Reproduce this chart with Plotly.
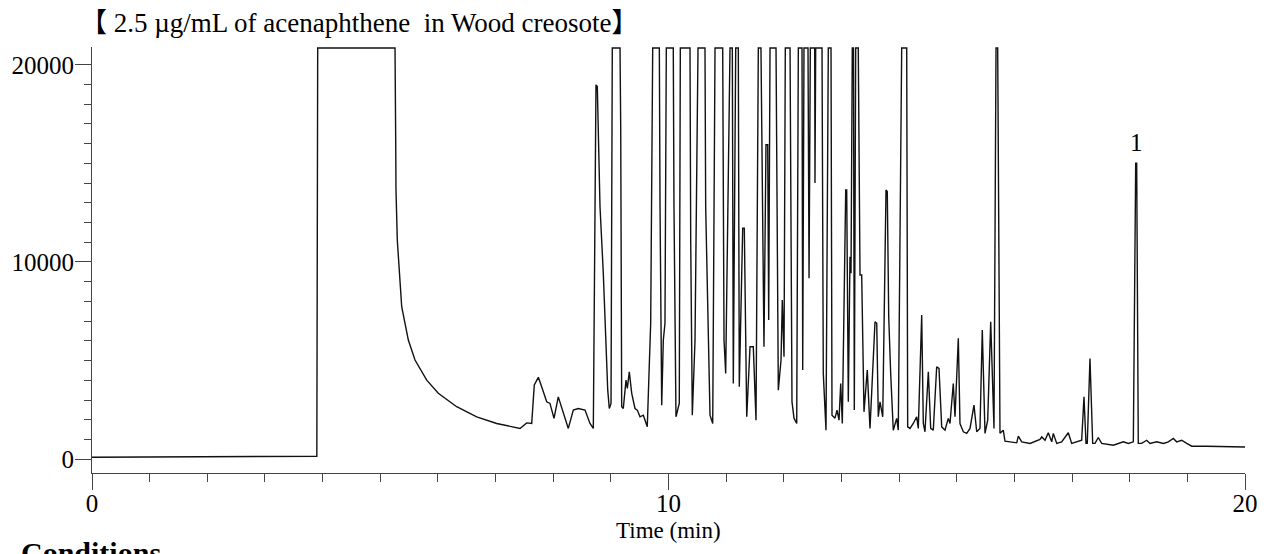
import plotly.graph_objects as go

SAT = 20850  # detector saturation level (flat tops)

# Baseline and solvent peak
t_solvent = [0, 1.5, 3.0, 3.90, 3.915, 5.256, 5.268, 5.273, 5.296, 5.372, 5.487, 5.603,
             5.806, 6.007, 6.326, 6.673, 7.020, 7.424]
s_solvent = [100, 110, 130, 150, SAT, SAT, 16200, 13650, 11100, 7730, 6040, 5030,
             4010, 3340, 2660, 2150, 1810, 1560]

# 7.5 - 9.7 min
t_early = [7.540, 7.627, 7.672, 7.742, 7.800, 7.887, 7.944, 8.014, 8.088, 8.175,
           8.262, 8.349, 8.435, 8.552, 8.638, 8.696, 8.742, 8.765, 8.812, 8.869,
           8.928, 8.946, 8.973, 9.003, 9.025, 9.159, 9.171, 9.188, 9.216, 9.263,
           9.286, 9.320, 9.362, 9.419, 9.459, 9.506, 9.563, 9.632, 9.662, 9.691]
s_early = [1840, 1810, 3760, 4150, 3670, 2910, 2830, 2070, 3160, 2320,
           1560, 2490, 2570, 2490, 1810, 1560, 18980, 18900, 12800, 9430,
           5190, 3500, 2570, 2830, SAT, SAT, 16870, 2660, 2570, 4010,
           3590, 4430, 3340, 2570, 2490, 2150, 2230, 1640, 4350, 6890]

# 9.7 - 12.2 min
t_mid1 = [9.726, 9.841, 9.853, 9.882, 9.910, 9.939, 9.962, 10.083, 10.095, 10.130,
          10.187, 10.205, 10.373, 10.385, 10.413, 10.460, 10.512, 10.633, 10.645, 10.720,
          10.767, 10.807, 10.940, 10.963, 10.992, 11.020, 11.067, 11.107, 11.124, 11.166,
          11.211, 11.228, 11.287, 11.315, 11.357, 11.414, 11.471, 11.518, 11.558, 11.604,
          11.656, 11.691, 11.721, 11.738, 11.761, 11.865, 11.905, 11.952, 11.974, 12.004,
          12.026, 12.108, 12.142, 12.177, 12.224]
s_mid1 = [SAT, SAT, 12810, 2740, 6040, 6890, SAT, SAT, 12810, 2150,
          2830, SAT, SAT, 11120, 2230, 6040, SAT, SAT, 12810, 2230,
          1810, SAT, SAT, 6040, 4350, 10610, SAT, SAT, 3840, SAT,
          SAT, 3670, 11710, 11710, 2150, 5700, 5700, 1980, SAT, SAT,
          5700, 15940, 15940, 7060, SAT, SAT, 3500, 5030, 8070, 5190,
          SAT, SAT, 2910, 2080, 1810]

# 12.25 - 14.0 min
t_mid2 = [12.252, 12.316, 12.328, 12.350, 12.420, 12.438, 12.460, 12.536, 12.541, 12.553,
          12.663, 12.685, 12.732, 12.772, 12.819, 12.836, 12.888, 12.923, 12.958, 12.987,
          13.015, 13.074, 13.091, 13.119, 13.148, 13.166, 13.188, 13.209, 13.223, 13.247,
          13.292, 13.322, 13.351, 13.391, 13.448, 13.495, 13.582, 13.612, 13.639, 13.669,
          13.716, 13.773, 13.795, 13.820, 13.854, 13.899, 13.958, 13.986]
s_mid2 = [SAT, SAT, 4520, SAT, SAT, 9170, SAT, SAT, 14000, SAT,
          SAT, 4350, 1470, SAT, SAT, 2230, 2080, 2490, 1980, 3840,
          1810, 13650, 13650, 2910, 10270, 9430, SAT, SAT, 2490, SAT,
          SAT, 9340, 9340, 2400, 4520, 1560, 6970, 6890, 2150, 2910,
          2150, 13650, 13570, 7220, 4350, 1470, 2070, 1470]

# 14.0 - 15.9 min
t_late = [14.045, 14.132, 14.149, 14.189, 14.246, 14.305, 14.333, 14.392, 14.420, 14.449,
          14.507, 14.548, 14.593, 14.652, 14.692, 14.739, 14.796, 14.853, 14.883, 14.940,
          14.970, 15.027, 15.056, 15.114, 15.173, 15.230, 15.299, 15.346, 15.403, 15.443,
          15.490, 15.537, 15.589, 15.646, 15.681, 15.710, 15.750, 15.807, 15.837]
s_late = [SAT, SAT, 1640, 1560, 1810, 2150, 1560, 7310, 1810, 1390,
          4430, 1560, 1470, 4690, 4600, 1640, 1470, 2070, 1810, 3840,
          2150, 6130, 1810, 1390, 1310, 1560, 2740, 1390, 1560, 6550,
          1310, 1980, 6970, 1560, SAT, SAT, 1310, 1470, 910]

# 16 - 20 min (peak 1 = acenaphthene)
t_tail = [16.040, 16.068, 16.127, 16.271, 16.444, 16.474, 16.531, 16.588, 16.647, 16.675,
          16.734, 16.820, 16.935, 16.994, 17.108, 17.167, 17.207, 17.242, 17.264, 17.311,
          17.358, 17.398, 17.455, 17.514, 17.716, 17.889, 17.976, 18.063, 18.104, 18.121,
          18.149, 18.208, 18.295, 18.352, 18.469, 18.583, 18.670, 18.757, 18.815, 18.902,
          18.989, 19.076, 19.335, 19.797, 20.0]
s_tail = [830, 1170, 880, 800, 1000, 1130, 960, 1340, 880, 1310,
          800, 880, 1340, 800, 880, 960, 3160, 800, 800, 5110,
          800, 800, 1100, 800, 710, 880, 800, 880, 15010, 15010,
          800, 800, 960, 800, 880, 800, 880, 1050, 880, 960,
          800, 660, 660, 620, 620]

peak_label = "1"
peak_label_time = 18.11
peak_label_signal = 16040

x_ticks = [0, 10, 20]
y_ticks = [0, 10000, 20000]

times = t_solvent + t_early + t_mid1 + t_mid2 + t_late + t_tail
signal = s_solvent + s_early + s_mid1 + s_mid2 + s_late + s_tail
assert len(times) == len(signal)

SERIF = "Liberation Serif, Times New Roman, serif"

fig = go.Figure()
fig.add_trace(go.Scatter(x=times, y=signal, mode="lines",
                         line=dict(color="#111111", width=1.4),
                         showlegend=False, hoverinfo="skip"))

fig.add_annotation(x=peak_label_time, y=peak_label_signal, text=peak_label,
                   showarrow=False, xanchor="center", yanchor="middle",
                   font=dict(family=SERIF, size=25, color="black"))
fig.add_annotation(xref="paper", yref="paper", x=-0.012, y=1.057,
                   text="【 2.5 µg/mL of acenaphthene\u00a0 in Wood creosote】",
                   showarrow=False, xanchor="left", yanchor="middle",
                   font=dict(family=SERIF + ", Noto Sans CJK JP", size=27, color="black"))
fig.add_annotation(xref="paper", yref="paper", x=0.5, y=-0.134,
                   text="Time (min)", showarrow=False, xanchor="center", yanchor="middle",
                   font=dict(family=SERIF, size=23, color="black"))
fig.add_annotation(xref="paper", yref="paper", x=-0.063, y=-0.143,
                   text="<b>Conditions</b>", showarrow=False, xanchor="left", yanchor="top",
                   font=dict(family=SERIF, size=30, color="black"))

# page body adds an 8 px offset, so margins are shifted to keep the plot area in place
fig.update_layout(
    width=1276, height=554,
    margin=dict(l=84, r=39, t=39, b=89, autoexpand=False),
    paper_bgcolor="white", plot_bgcolor="white",
    font=dict(family=SERIF, color="black"),
)
fig.update_xaxes(range=[0, 20], tickvals=x_ticks, ticktext=[str(v) for v in x_ticks],
                 automargin=False, ticklabelstandoff=-8,
                 ticks="outside", ticklen=16, tickwidth=1, tickcolor="#444",
                 showline=True, linecolor="#444", linewidth=1,
                 showgrid=False, zeroline=False,
                 minor=dict(dtick=1, ticks="outside", ticklen=8, tickcolor="#444", showgrid=False),
                 tickfont=dict(family=SERIF, size=25, color="black"))
fig.update_yaxes(range=[-700, 20900], tickvals=y_ticks, ticktext=[str(v) for v in y_ticks],
                 automargin=False, ticklabelstandoff=-4,
                 ticks="outside", ticklen=16, tickwidth=1, tickcolor="#444",
                 showline=True, linecolor="#444", linewidth=1,
                 showgrid=False, zeroline=False,
                 minor=dict(dtick=1000, ticks="outside", ticklen=7, tickcolor="#444", showgrid=False),
                 tickfont=dict(family=SERIF, size=25, color="black"))

fig.write_html("out.html")
